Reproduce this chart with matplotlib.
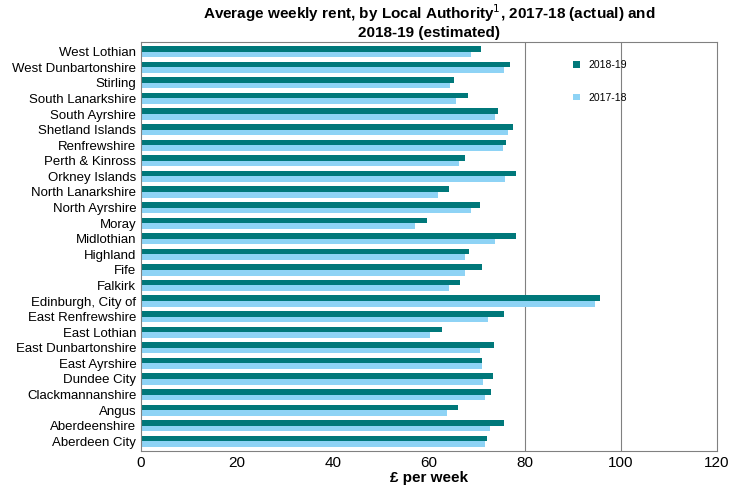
import matplotlib
matplotlib.use("Agg")
import matplotlib.pyplot as plt
import numpy as np

areas = ["West Lothian","West Dunbartonshire","Stirling","South Lanarkshire","South Ayrshire",
"Shetland Islands","Renfrewshire","Perth & Kinross","Orkney Islands","North Lanarkshire",
"North Ayrshire","Moray","Midlothian","Highland","Fife","Falkirk","Edinburgh, City of",
"East Renfrewshire","East Lothian","East Dunbartonshire","East Ayrshire","Dundee City",
"Clackmannanshire","Angus","Aberdeenshire","Aberdeen City"]
rent_1819 = [70.8,77.0,65.3,68.1,74.5,77.5,76.0,67.6,78.1,64.3,70.6,59.7,78.1,68.3,71.0,66.4,95.6,
             75.6,62.8,73.5,71.0,73.3,72.9,66.0,75.6,72.2]
rent_1718 = [68.7,75.6,64.5,65.6,73.7,76.6,75.4,66.2,75.8,61.8,68.7,57.2,73.7,67.6,67.6,64.3,94.6,
             72.4,60.3,70.6,71.0,71.2,71.6,63.7,72.7,71.6]

plt.rcParams['font.family'] = ['Liberation Sans', 'DejaVu Sans']
fig, ax = plt.subplots(figsize=(7.35, 4.98), dpi=100)
fig.subplots_adjust(left=0.192, right=0.975, top=0.915, bottom=0.095)
n = len(areas)
y = np.arange(n)[::-1]
h = 0.36
ax.barh(y + h/2, rent_1819, height=h, color="#00787A", label="2018-19")
ax.barh(y - h/2, rent_1718, height=h, color="#8ED3F5", label="2017-18")
ax.set_yticks(y)
ax.set_yticklabels(areas, fontsize=9.5)
ax.set_ylim(-0.6, n - 0.4)
ax.set_xlim(0, 120)
ax.set_xticks(range(0, 121, 20))
ax.tick_params(axis="x", labelsize=11, length=0)
ax.tick_params(axis="y", length=0)
for v in (80, 100):
    ax.axvline(v, color="#808080", lw=0.8, zorder=0)
for s in ax.spines.values():
    s.set_color("#808080")
ax.set_xlabel("£ per week", fontsize=11, fontweight="bold", labelpad=1)
ax.set_title("Average weekly rent, by Local Authority$^1$, 2017-18 (actual) and\n2018-19 (estimated)",
             fontsize=11, fontweight="bold", pad=4)
ax.legend(loc="upper right", bbox_to_anchor=(0.86, 0.98), frameon=False, fontsize=7.5,
          handlelength=0.6, handleheight=0.6, labelspacing=2.2)
plt.savefig("out.png", dpi=100)
